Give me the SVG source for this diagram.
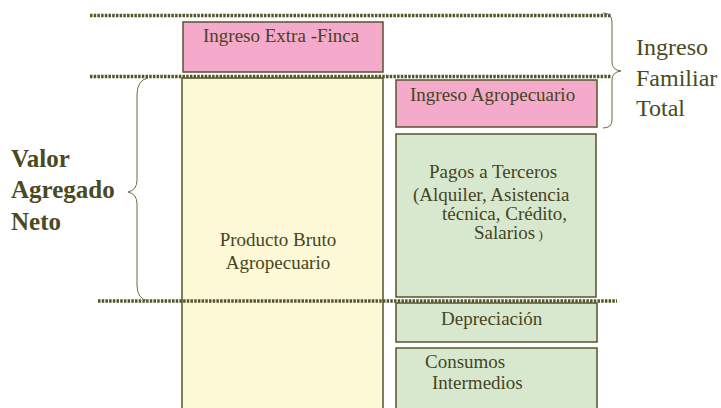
<svg xmlns="http://www.w3.org/2000/svg" width="721" height="408" viewBox="0 0 721 408">
<style>
.box{stroke:#55552b;stroke-width:1.5}
.pink{fill:#f5a9cb}
.yel{fill:#fdf8d6}
.grn{fill:#d8e8cf}
.t{font-size:19px;fill:#45451f}
.big{font-size:24px;fill:#4a4a22}
.bold{font-size:25px;font-weight:bold;fill:#4a4a22}
.dot{stroke:#55552b;stroke-width:3.5;stroke-dasharray:2.5 1.2;fill:none}
.brace{stroke:#6b6b45;stroke-width:1;fill:none}
</style>
<g id="extra-finca">
<rect class="box pink" x="183" y="22" width="200" height="50"/>
<text class="t" x="203" y="42" font-family="Liberation Serif, serif">Ingreso Extra -Finca</text>
</g>
<g id="producto-bruto">
<rect class="box yel" x="182" y="78" width="201" height="335"/>
<text class="t" x="278" y="246" text-anchor="middle" font-family="Liberation Serif, serif">Producto Bruto</text>
<text class="t" x="278" y="269" text-anchor="middle" font-family="Liberation Serif, serif">Agropecuario</text>
</g>
<g id="ingreso-agro">
<rect class="box pink" x="396" y="80" width="201" height="47"/>
<text class="t" x="410" y="101" font-family="Liberation Serif, serif">Ingreso Agropecuario</text>
</g>
<g id="pagos">
<rect class="box grn" x="396" y="134" width="200" height="163"/>
<text class="t" x="429" y="178" font-family="Liberation Serif, serif">Pagos a Terceros</text>
<text class="t" x="413" y="201" font-family="Liberation Serif, serif">(Alquiler, Asistencia</text>
<text class="t" x="442" y="220" font-family="Liberation Serif, serif">técnica, Crédito,</text>
<text class="t" x="474" y="239" font-family="Liberation Serif, serif">Salarios<tspan font-size="13"> )</tspan></text>
</g>
<g id="depreciacion">
<rect class="box grn" x="396" y="303" width="201" height="39"/>
<text class="t" x="441" y="325" font-family="Liberation Serif, serif">Depreciación</text>
</g>
<g id="consumos">
<rect class="box grn" x="396" y="348" width="201" height="65"/>
<text class="t" x="425" y="368" font-family="Liberation Serif, serif">Consumos</text>
<text class="t" x="432" y="389" font-family="Liberation Serif, serif">Intermedios</text>
</g>
<g id="connectors">
<line class="dot" x1="90" y1="15.5" x2="611" y2="15.5"/>
<line class="dot" x1="90" y1="76.5" x2="611" y2="76.5"/>
<line class="dot" x1="98" y1="301" x2="617" y2="301"/>
<path class="brace" d="M603,13 Q612,13 612,22 L612,62 Q612,70 621,71 Q612,72 612,80 L612,120 Q612,128 603,128"/>
<path class="brace" d="M148,78 Q137,80 137,95 L137,180 Q137,190 128,192 Q137,194 137,204 L137,285 Q137,299 148,301"/>
</g>
<g id="labels">
<text class="big" x="636" y="55" font-family="Liberation Serif, serif">Ingreso</text>
<text class="big" x="636" y="86" font-family="Liberation Serif, serif">Familiar</text>
<text class="big" x="636" y="116" font-family="Liberation Serif, serif">Total</text>
<text class="bold" x="11" y="167" font-family="Liberation Serif, serif">Valor</text>
<text class="bold" x="11" y="198" font-family="Liberation Serif, serif">Agregado</text>
<text class="bold" x="11" y="230" font-family="Liberation Serif, serif">Neto</text>
</g>
</svg>
